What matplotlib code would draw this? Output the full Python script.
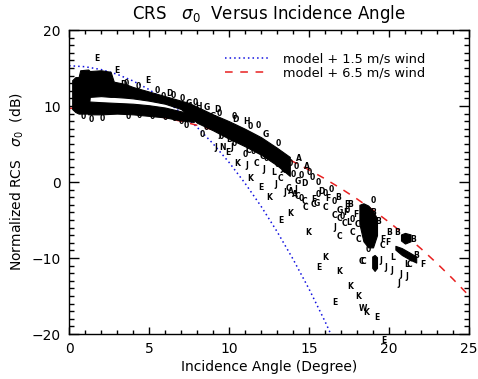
import numpy as np
import matplotlib
matplotlib.use("Agg")
import matplotlib.pyplot as plt
from matplotlib.ticker import MultipleLocator

# ---------------------------------------------------------------------------
# DATA
# ---------------------------------------------------------------------------
# model curves, sigma0 (dB) against incidence angle (deg)
model_angle = [0, 1, 2, 3, 4, 5, 6, 7, 8, 9, 10, 11, 12, 13, 14, 15, 16, 17,
               18, 19, 20, 21, 22, 23, 24, 25]
model_15 = [15.3, 15.17, 14.8, 14.18, 13.3, 12.17, 10.78, 9.13, 7.22, 5.05,
            2.59, -0.16, -3.18, -6.51, -10.14, -14.07, -18.34, -22.96,
            None, None, None, None, None, None, None, None]
model_65 = [9.7, 9.67, 9.56, 9.39, 9.15, 8.84, 8.46, 8.0, 7.47, 6.87, 6.2,
            5.44, 4.61, 3.69, 2.69, 1.6, 0.42, -0.86, -2.23, -3.7, -5.28,
            -6.96, -8.77, -10.71, -12.77, -14.96]

# dense upper band (solid cloud of overlapping symbols)
upper_x = [0.2, 0.4, 0.6, 0.7, 1.2, 1.3, 2.0, 2.6, 2.8, 3.5, 4, 5, 6, 7, 7.5,
           8, 9, 10, 11, 12, 13, 13.8]
upper_top = [13.4, 13.8, 13.8, 14.7, 14.8, 14.6, 14.7, 14.5, 13.2, 12.9,
             12.5, 11.9, 11.3, 10.7, 10.4, 9.9, 8.9, 8.0, 7.0, 5.9, 4.5, 3.3]
upper_bot = [9.6, 9.2, 9.0, 9.0, 9.0, 11.2, 11.3, 11.2, 11.2, 11.1, 11.0,
             10.7, 10.3, 9.6, 8.7, 7.8, 6.8, 5.7, 4.7, 3.6, 2.2, 0.8]

# dense lower band
lower_x = [1.2, 2, 3, 4, 5, 6, 7, 7.8]
lower_top = [10.6, 10.5, 10.4, 10.3, 10.1, 9.8, 9.3, 9.0]
lower_bot = [8.9, 8.9, 9.0, 8.9, 8.7, 8.5, 8.1, 7.9]

# dense clusters at larger angles
blob_x = [[18.15, 18.4, 18.7, 19.0, 19.25],
          [18.95, 19.1, 19.25],
          [20.75, 21.0, 21.35],
          [20.4, 20.8, 21.3, 21.7]]
blob_top = [[-3.0, -2.8, -3.1, -3.8, -4.8],
            [-9.8, -9.6, -9.9],
            [-6.9, -6.7, -6.9],
            [-8.4, -8.7, -9.3, -9.8]]
blob_bot = [[-5.5, -7.8, -8.6, -8.6, -7.0],
            [-11.3, -11.7, -11.3],
            [-7.7, -8.1, -7.8],
            [-8.9, -9.6, -10.2, -10.6]]

# individual flight-leg symbols
pt_lab = ['E', 'E', 'E', 'D', '0', '0', '0', '0', '0', '0', '0', '0',
          'G', 'H', '0', '0', 'G', '0', 'D', '0', 'H', '0',
          'J', 'E', 'N', 'J', 'K', 'J', 'C', 'J', '0', '0', 'C', '0', 'D', '0',
          'A', 'A', 'G', '0', '0', 'G', '0', 'D', '0', 'C', 'J', '0', '0', 'L',
          '0', '0',
          'K', 'E', 'K', 'K', 'E', 'K', 'J', 'C', 'C', 'K', 'E', 'K', 'C',
          'J', 'J', 'J', 'K', 'K', 'E', 'W', 'K', 'E', 'E',
          'J', 'J', 'J', 'L', 'L', 'C', 'F', 'F', 'C', 'B', 'B', 'B', 'F', 'B',
          'C', 'C', 'J', 'C', 'B', 'B', 'B', 'B', 'B', 'B', 'C', 'L',
          'A', 'A', 'C', '0', 'C', 'J',
          'F', '0', 'D', '0', 'G', 'F', 'C', '0', '0', 'C',
          'C', 'C', '0', 'F', 'L', 'C', '0', '0', 'G', 'F', 'C',
          '0', '0', '0', 'D', '0', '0', 'G', '0', 'D', '0', 'G', '0',
          '0', 'J', '0', 'C', '0', 'J', '0', '0', '0', '0']
pt_x = [1.75, 3.0, 4.9, 3.4, 5.9, 2.1, 3.7, 4.4, 5.2, 6.0, 6.6, 7.0,
        7.5, 8.1, 7.3, 8.3, 9.0, 6.5, 9.3, 10.3, 11.1, 11.8,
        9.2, 9.9, 9.6, 10.2, 10.5, 11.1, 11.7, 12.2, 10.7, 11.5, 12.1, 11.0,
        10.0, 9.5,
        14.4, 14.9, 14.3, 13.0, 14.0, 13.5, 14.5, 14.7, 15.2, 13.2, 12.9,
        15.0, 13.8, 12.8, 14.2, 15.6,
        11.3, 12.0, 12.5, 13.8, 13.25, 14.95, 16.6, 16.9, 18.1, 16.0, 15.6,
        16.9, 18.4, 19.5, 19.8, 20.2, 17.6, 18.1, 16.6, 18.4, 18.6, 19.25,
        19.7,
        20.75, 21.1, 20.6, 20.2, 21.1, 21.3, 19.6, 19.9, 19.6, 20.0, 20.5,
        21.5, 22.1, 21.7,
        17.7, 13.7, 13.5, 14.75, 16.8, 17.4, 17.6, 19.0, 19.3, 19.0, 18.3,
        18.6,
        13.9, 14.1, 14.3, 14.5, 14.7, 14.2,
        15.3, 15.6, 15.8, 16.0, 15.5, 16.2, 15.3, 16.4, 16.6, 16.0,
        16.6, 16.9, 17.1, 17.3, 17.5, 17.2, 17.7, 17.4, 16.9, 17.9, 18.0,
        3.6, 4.3, 5.5, 6.3, 7.1, 7.9, 8.6, 9.4, 10.4, 11.3, 12.3, 13.1,
        8.6, 9.4, 10.3, 11.2, 12.3, 13.3, 0.9, 1.4, 19.0, 18.7]
pt_y = [16.3, 14.7, 13.4, 12.8, 11.3, 8.3, 8.6, 8.7, 8.6, 8.5, 8.3, 8.0,
        10.3, 9.9, 7.4, 6.2, 8.6, 11.4, 9.5, 8.6, 8.0, 7.4,
        4.5, 3.9, 4.6, 4.5, 2.5, 2.2, 2.4, 1.6, 5.3, 4.0, 3.4, 3.6, 5.6, 6.0,
        3.1, 2.0, 0.0, 2.3, 1.0, 1.5, 0.8, -0.2, 0.6, 0.5, -0.3, 1.3, 2.4,
        1.3, 2.0, -0.1,
        0.4, -0.7, -2.0, -4.1, -5.1, -6.6, -6.0, -7.2, -7.6, -10.0, -11.2,
        -11.8, -10.5, -10.3, -11.3, -11.6, -13.8, -15.1, -15.8, -16.6, -17.2,
        -17.8, -20.8,
        -12.2, -12.4, -13.3, -9.9, -10.9, -10.9, -7.6, -7.9, -8.4, -6.7, -6.7,
        -7.6, -10.9, -9.7,
        -6.6, -0.8, -1.4, -3.3, -2.0, -3.0, -3.0, -4.0, -5.2, -5.8, -10.4,
        -6.3,
        -1.3, -1.7, -1.9, -2.2, -2.5, -1.0,
        -2.3, -1.6, -1.3, -1.5, -2.8, -2.2, -3.0, -1.0, -2.6, -3.3,
        -4.4, -4.8, -4.5, -4.0, -5.3, -5.5, -5.0, -3.8, -3.8, -4.3, -5.6,
        13.0, 12.6, 12.0, 11.6, 11.0, 10.4, 9.8, 9.0, 8.2, 7.3, 6.2, 5.0,
        7.2, 6.2, 5.1, 4.2, 3.1, 1.8, 8.6, 8.2, -2.4, -8.9]

# ---------------------------------------------------------------------------
# PLOT
# ---------------------------------------------------------------------------
plt.rcParams['font.family'] = 'DejaVu Sans'
fig = plt.figure(figsize=(4.78, 3.79), dpi=100)
ax = fig.add_axes([69 / 478, 1 - 334 / 379, 400 / 478, 304 / 379])

m15 = np.array([np.nan if v is None else v for v in model_15], dtype=float)
ax.plot(model_angle, m15, color='#1010e0', linestyle=(0, (1, 2)), lw=1.1,
        label='model + 1.5 m/s wind', zorder=1)
ax.plot(model_angle, model_65, color='#e82020', linestyle=(0, (5, 5)), lw=1.1,
        label='model + 6.5 m/s wind', zorder=1)

ax.fill_between(upper_x, upper_bot, upper_top, color='black', lw=0.8,
                edgecolor='black', zorder=2)
ax.fill_between(lower_x, lower_bot, lower_top, color='black', lw=0.8,
                edgecolor='black', zorder=2)
for bx, bt, bb in zip(blob_x, blob_top, blob_bot):
    ax.fill_between(bx, bb, bt, color='black', lw=0.8, edgecolor='black',
                    zorder=2)

for lab, x, y in zip(pt_lab, pt_x, pt_y):
    ax.text(x, y, lab, fontsize=5.5, fontweight='bold', ha='center',
            va='center', zorder=3, clip_on=(y > -20))

ax.set_xlim(0, 25)
ax.set_ylim(-20, 20)
ax.xaxis.set_major_locator(MultipleLocator(5))
ax.xaxis.set_minor_locator(MultipleLocator(1))
ax.yaxis.set_major_locator(MultipleLocator(10))
ax.yaxis.set_minor_locator(MultipleLocator(1))
ax.tick_params(which='both', direction='in', top=True, right=True,
               labelsize=10, width=1, pad=6)
ax.tick_params(axis='x', which='major', length=5)
ax.tick_params(axis='x', which='minor', length=3)
ax.tick_params(axis='y', which='major', length=7)
ax.tick_params(axis='y', which='minor', length=3.5)
for sp in ax.spines.values():
    sp.set_linewidth(1)

ax.set_title(r'CRS   $\sigma_0$  Versus Incidence Angle', fontsize=12, pad=8)
ax.set_xlabel('Incidence Angle (Degree)', fontsize=10, labelpad=3)
ax.set_ylabel(r'Normalized RCS   $\sigma_0$  (dB)', fontsize=10, labelpad=4)

ax.legend(loc='upper left', bbox_to_anchor=(0.39, 0.925), frameon=False,
          fontsize=9.3, handlelength=3.5, handletextpad=1.0, borderpad=0,
          borderaxespad=0, labelspacing=0.05)

fig.savefig('out.png', dpi=100)
